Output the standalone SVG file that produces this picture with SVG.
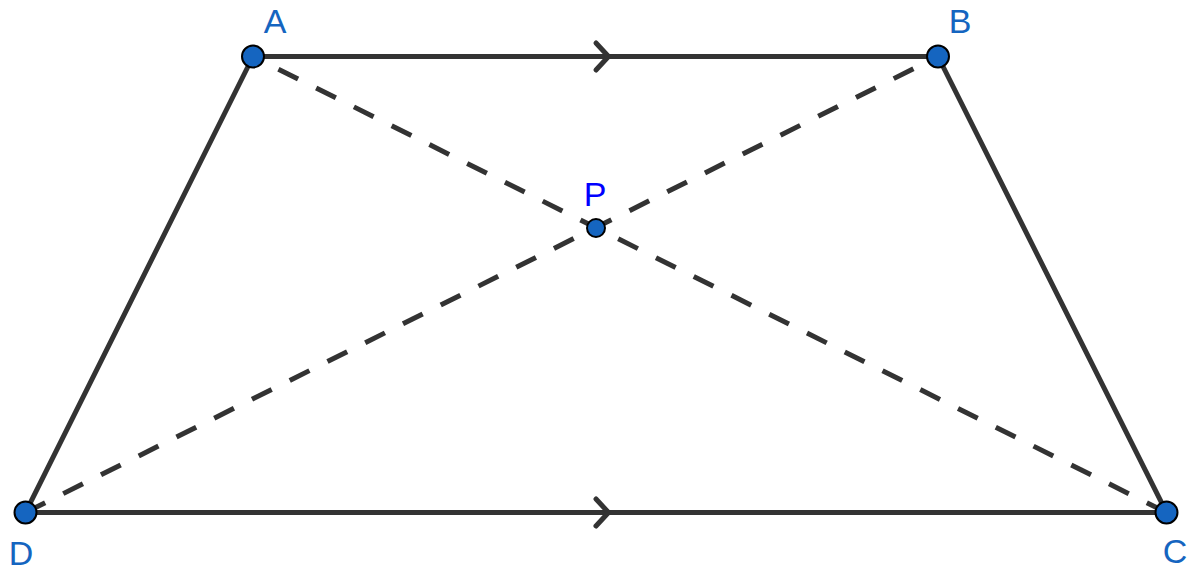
<svg xmlns="http://www.w3.org/2000/svg" width="1200" height="579" viewBox="0 0 1200 579">
<style>
.edge{stroke:#333333;stroke-width:5;fill:none;stroke-linecap:round;stroke-linejoin:round}
.dash{stroke:#333333;stroke-width:5;fill:none;stroke-dasharray:22 20.2}
.pt{fill:#1565C0;stroke:#000000;stroke-width:2}
.lbl{font-family:"Liberation Sans",Arial,sans-serif;font-size:34px;fill:#1565C0;text-anchor:middle}
.lblp{fill:#0000FF}
</style>
<rect width="1200" height="579" fill="#ffffff"/>
<g id="connectors">
<line class="edge" x1="253" y1="56.5" x2="938" y2="56.5"/>
<line class="edge" x1="938" y1="56.5" x2="1166.5" y2="512.5"/>
<line class="edge" x1="1166.5" y1="512.5" x2="25.5" y2="512.5"/>
<line class="edge" x1="25.5" y1="512.5" x2="253" y2="56.5"/>
<path class="dash" d="M1166.5 512.5 L253 56.5"/>
<path class="dash" d="M25.5 512.5 L938 56.5"/>
<polyline class="edge" points="596,43 608.5,56.5 596,70"/>
<polyline class="edge" points="596,499 608.5,512.5 596,526"/>
</g>
<g id="node-A"><circle class="pt" cx="253" cy="56.5" r="11"/><text class="lbl" x="275" y="33">A</text></g>
<g id="node-B"><circle class="pt" cx="938" cy="56.5" r="11"/><text class="lbl" x="960" y="33">B</text></g>
<g id="node-C"><circle class="pt" cx="1166.5" cy="512.5" r="11"/><text class="lbl" x="1175" y="563">C</text></g>
<g id="node-D"><circle class="pt" cx="25.5" cy="512.5" r="11"/><text class="lbl" x="21" y="565">D</text></g>
<g id="node-P"><circle class="pt" cx="596" cy="228" r="9"/><text class="lbl lblp" x="595" y="206">P</text></g>
</svg>
